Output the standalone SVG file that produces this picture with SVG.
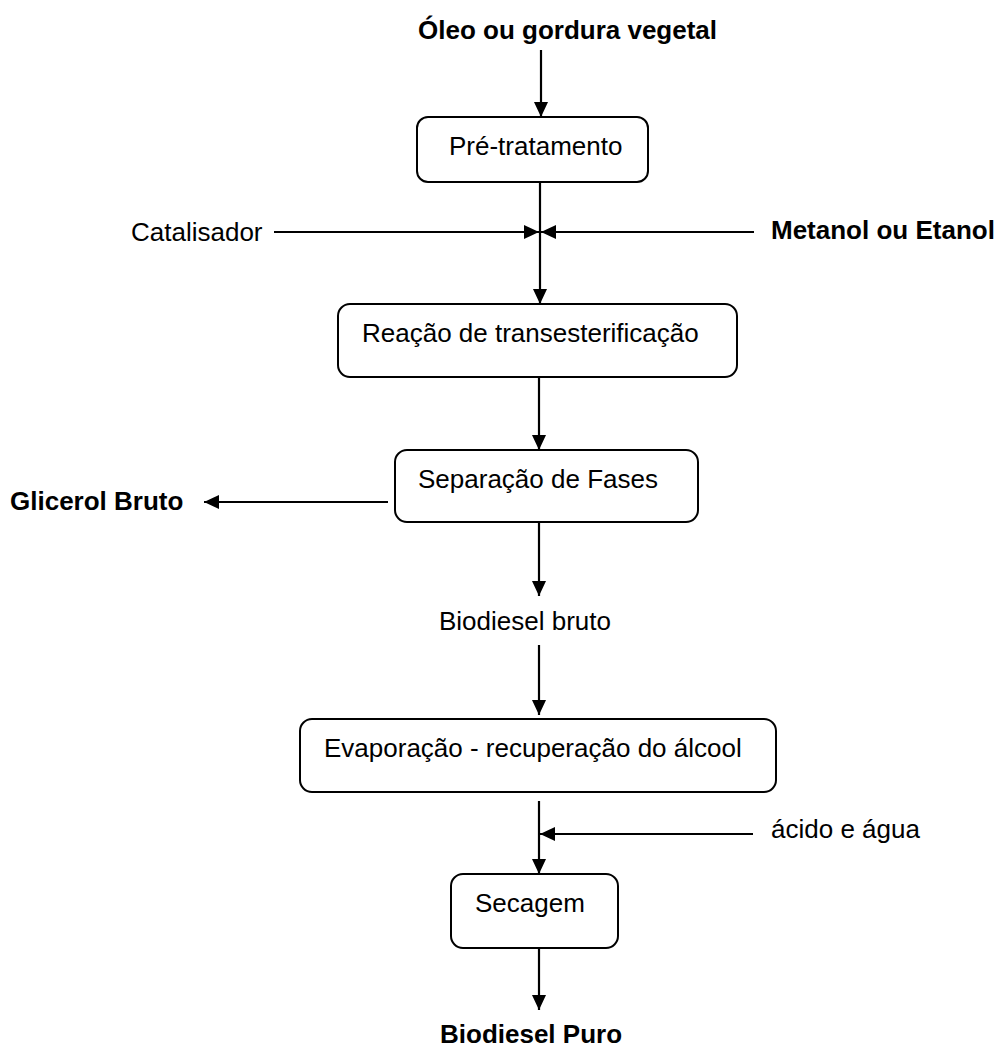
<svg xmlns="http://www.w3.org/2000/svg" width="1003" height="1049" viewBox="0 0 1003 1049">
<style>
  .box { fill: #ffffff; stroke: #000000; stroke-width: 2; }
  .t { font-family: "Liberation Sans", Arial, sans-serif; font-size: 26px; fill: #000000; }
  .b { font-weight: bold; }
  .ln { stroke: #000000; stroke-width: 2.2; fill: none; }
</style>
<defs>
  <marker id="ah" viewBox="0 0 15 14" refX="15" refY="7" markerWidth="15" markerHeight="14" markerUnits="userSpaceOnUse" orient="auto">
    <path d="M0,0 L15,7 L0,14 Z" fill="#000000"/>
  </marker>
</defs>
<rect width="1003" height="1049" fill="#ffffff"/>

<g id="connectors">
  <line class="ln" x1="541" y1="50" x2="541" y2="117" marker-end="url(#ah)"/>
  <line class="ln" x1="540" y1="182" x2="540" y2="304" marker-end="url(#ah)"/>
  <line class="ln" x1="274" y1="232" x2="539" y2="232" marker-end="url(#ah)"/>
  <line class="ln" x1="754" y1="232" x2="541" y2="232" marker-end="url(#ah)"/>
  <line class="ln" x1="539" y1="377" x2="539" y2="450" marker-end="url(#ah)"/>
  <line class="ln" x1="388" y1="502" x2="204" y2="502" marker-end="url(#ah)"/>
  <line class="ln" x1="539" y1="522" x2="539" y2="596" marker-end="url(#ah)"/>
  <line class="ln" x1="539" y1="645" x2="539" y2="715" marker-end="url(#ah)"/>
  <line class="ln" x1="539" y1="801" x2="539" y2="874" marker-end="url(#ah)"/>
  <line class="ln" x1="753" y1="834" x2="540" y2="834" marker-end="url(#ah)"/>
  <line class="ln" x1="539" y1="948" x2="539" y2="1010" marker-end="url(#ah)"/>
</g>

<g id="input-oleo">
  <text class="t b" x="418" y="39">Óleo ou gordura vegetal</text>
</g>
<g id="node-pretratamento">
  <rect class="box" x="417" y="117" width="231" height="65" rx="11"/>
  <text class="t" x="449" y="155">Pré-tratamento</text>
</g>
<g id="input-catalisador">
  <text class="t" x="131" y="241">Catalisador</text>
</g>
<g id="input-metanol">
  <text class="t b" x="771" y="239">Metanol ou Etanol</text>
</g>
<g id="node-reacao">
  <rect class="box" x="338" y="304" width="399" height="73" rx="12"/>
  <text class="t" x="362" y="342">Reação de transesterificação</text>
</g>
<g id="node-separacao">
  <rect class="box" x="395" y="450" width="303" height="72" rx="12"/>
  <text class="t" x="418" y="488">Separação de Fases</text>
</g>
<g id="output-glicerol">
  <text class="t b" x="10" y="510">Glicerol Bruto</text>
</g>
<g id="label-biodiesel-bruto">
  <text class="t" x="439" y="630">Biodiesel bruto</text>
</g>
<g id="node-evaporacao">
  <rect class="box" x="300" y="719" width="476" height="73" rx="12"/>
  <text class="t" x="324" y="757">Evaporação - recuperação do álcool</text>
</g>
<g id="input-acido">
  <text class="t" x="771" y="838">ácido e água</text>
</g>
<g id="node-secagem">
  <rect class="box" x="451" y="874" width="167" height="74" rx="12"/>
  <text class="t" x="475" y="912">Secagem</text>
</g>
<g id="output-biodiesel-puro">
  <text class="t b" x="440" y="1043">Biodiesel Puro</text>
</g>
</svg>
